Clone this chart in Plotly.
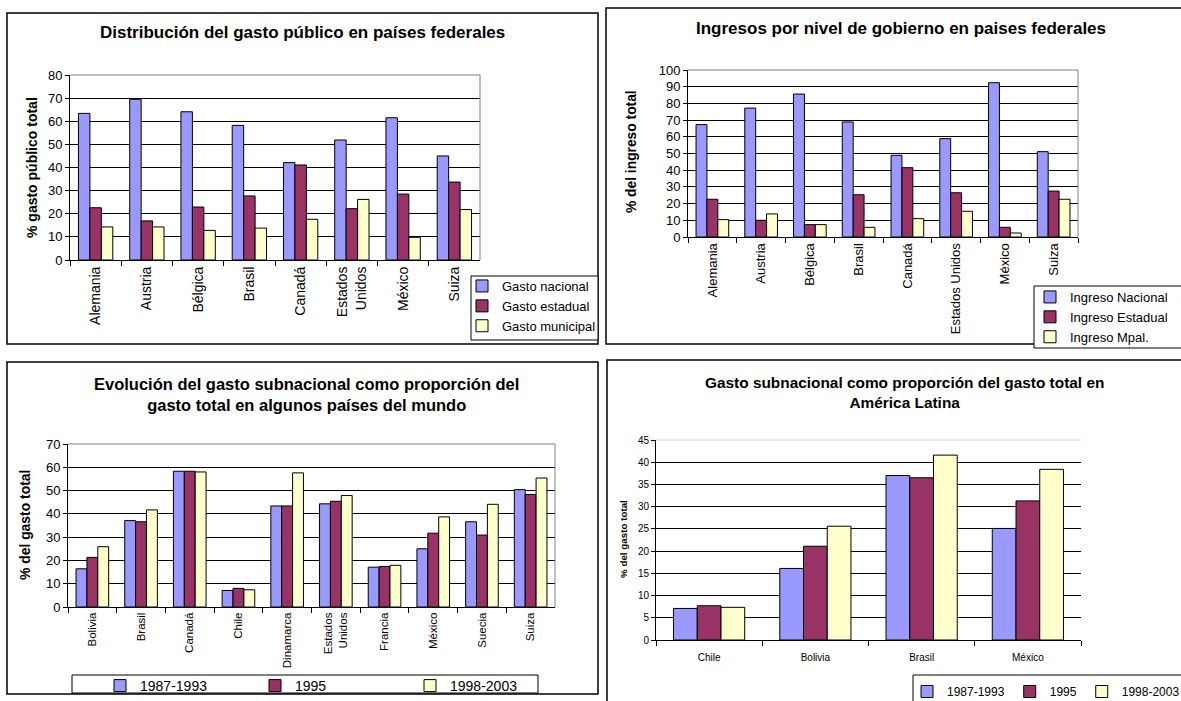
import plotly.graph_objects as go

W, H = 1181, 701
FONT = "Liberation Sans, Arial, sans-serif"
C_BLUE, C_RED, C_YEL = "#9999FF", "#993366", "#FFFFCC"

# ---------------- Data ----------------
# Panel 1: Distribución del gasto público en países federales
p1_cats = ["Alemania", "Austria", "Bélgica", "Brasil", "Canadá", "Estados Unidos", "México", "Suiza"]
p1_ticktext = ["Alemania", "Austria", "Bélgica", "Brasil", "Canadá", "Estados<br>Unidos", "México", "Suiza"]
p1_nacional = [63.4, 69.5, 64.1, 58.2, 42.1, 51.9, 61.5, 45.0]
p1_estadual = [22.6, 16.9, 22.9, 27.7, 41.1, 22.2, 28.5, 33.7]
p1_municipal = [14.3, 14.3, 12.8, 13.8, 17.6, 26.2, 9.8, 21.8]

# Panel 2: Ingresos por nivel de gobierno en paises federales
p2_cats = ["Alemania", "Austria", "Bélgica", "Brasil", "Canadá", "Estados Unidos", "México", "Suiza"]
p2_nacional = [67.3, 77.2, 85.6, 68.9, 48.9, 58.9, 92.4, 51.1]
p2_estadual = [22.6, 10.0, 7.4, 25.3, 41.5, 26.5, 5.8, 27.5]
p2_mpal = [10.4, 13.8, 7.4, 5.8, 11.0, 15.4, 2.4, 22.6]

# Panel 3: Evolución del gasto subnacional
p3_cats = ["Bolivia", "Brasil", "Canadá", "Chile", "Dinamarca", "Estados Unidos",
           "Francia", "México", "Suecia", "Suiza"]
p3_ticktext = ["Bolivia", "Brasil", "Canadá", "Chile", "Dinamarca", "Estados<br>Unidos",
               "Francia", "México", "Suecia", "Suiza"]
p3_8793 = [16.4, 37.1, 58.3, 7.1, 43.4, 44.3, 17.1, 25.0, 36.6, 50.4]
p3_1995 = [21.3, 36.6, 58.3, 8.0, 43.4, 45.4, 17.4, 31.7, 30.9, 48.3]
p3_9803 = [25.9, 41.7, 58.0, 7.4, 57.6, 47.9, 17.9, 38.7, 44.1, 55.4]

# Panel 4: Gasto subnacional en América Latina
p4_cats = ["Chile", "Bolivia", "Brasil", "México"]
p4_8793 = [7.1, 16.1, 37.0, 25.1]
p4_1995 = [7.7, 21.1, 36.5, 31.3]
p4_9803 = [7.35, 25.6, 41.6, 38.4]

series_names_1 = ["Gasto nacional", "Gasto estadual", "Gasto municipal"]
series_names_2 = ["Ingreso Nacional", "Ingreso Estadual", "Ingreso Mpal."]
series_names_3 = ["1987-1993", "1995", "1998-2003"]


def px(x):
    return x / W


def py(y):
    return 1 - y / H


fig = go.Figure()
colors = [C_BLUE, C_RED, C_YEL]


def add_bars(cats, series, names, xa, ya, legend, showlegend=True):
    for vals, name, col in zip(series, names, colors):
        fig.add_trace(go.Bar(
            x=cats, y=vals, name=name, xaxis=xa, yaxis=ya,
            marker=dict(color=col, line=dict(color="#000000", width=1)),
            legend=legend, showlegend=showlegend, hoverinfo="x+y+name",
        ))


add_bars(p1_cats, [p1_nacional, p1_estadual, p1_municipal], series_names_1, "x", "y", "legend")
add_bars(p2_cats, [p2_nacional, p2_estadual, p2_mpal], series_names_2, "x2", "y2", "legend2")
add_bars(p3_cats, [p3_8793, p3_1995, p3_9803], series_names_3, "x3", "y3", "legend3")
add_bars(p4_cats, [p4_8793, p4_1995, p4_9803], series_names_3, "x4", "y4", "legend4")


def xaxis(domain, anchor, ticktext, cats, size, angle=-90, standoff=None):
    d = dict(domain=domain, anchor=anchor, type="category",
             showline=True, linecolor="#000000", linewidth=1,
             ticks="outside", tickson="boundaries", ticklen=5, tickcolor="#000000",
             showgrid=False, tickangle=angle, automargin=False,
             tickfont=dict(family=FONT, size=size, color="#000000"),
             fixedrange=True)
    if ticktext is not None:
        d.update(tickmode="array", tickvals=cats, ticktext=ticktext)
    if standoff is not None:
        d.update(ticklabelstandoff=standoff)
    return d


def yaxis(domain, anchor, rng, dtick, size):
    return dict(domain=domain, anchor=anchor, range=rng, dtick=dtick,
                showline=True, linecolor="#000000", linewidth=1,
                ticks="outside", ticklen=4, tickcolor="#000000", automargin=False,
                showgrid=True, gridcolor="#000000", gridwidth=1, zeroline=False,
                tickfont=dict(family=FONT, size=size, color="#000000"),
                fixedrange=True)


# domains (pixel -> paper)
d1x = [px(70), px(480)]
d1y = [py(260), py(75)]
d2x = [px(688), px(1078)]
d2y = [py(237), py(70)]
d3x = [px(68), px(555)]
d3y = [py(607), py(444)]
d4x = [px(656), px(1081)]
d4y = [py(640), py(440)]

fig.update_layout(
    width=W, height=H,
    margin=dict(l=0, r=0, t=0, b=0, pad=0, autoexpand=False),
    paper_bgcolor="#FFFFFF", plot_bgcolor="#FFFFFF",
    font=dict(family=FONT, color="#000000"),
    barmode="group", bargap=0.33, bargroupgap=0,
    xaxis=xaxis(d1x, "y", p1_ticktext, p1_cats, 14),
    yaxis=yaxis(d1y, "x", [0, 80], 10, 13),
    xaxis2=xaxis(d2x, "y2", None, p2_cats, 13),
    yaxis2=yaxis(d2y, "x2", [0, 100], 10, 13),
    xaxis3=xaxis(d3x, "y3", p3_ticktext, p3_cats, 11.5),
    yaxis3=yaxis(d3y, "x3", [0, 70], 10, 13),
    xaxis4=xaxis(d4x, "y4", None, p4_cats, 10, angle=0, standoff=8),
    yaxis4=yaxis(d4y, "x4", [0, 45], 5, 10),
    legend=dict(x=px(462), y=py(271), xanchor="left", yanchor="top",
                bgcolor="rgba(0,0,0,0)", borderwidth=0,
                font=dict(family=FONT, size=13), tracegroupgap=0, itemwidth=30),
    legend2=dict(x=px(1030), y=py(282), xanchor="left", yanchor="top",
                 bgcolor="rgba(0,0,0,0)", borderwidth=0,
                 font=dict(family=FONT, size=13), itemwidth=30),
    legend3=dict(x=px(100), y=py(670), xanchor="left", yanchor="top",
                 orientation="h", bgcolor="rgba(0,0,0,0)", borderwidth=0,
                 entrywidth=110, entrywidthmode="pixels",
                 font=dict(family=FONT, size=14), itemwidth=30),
    legend4=dict(x=px(907), y=py(677), xanchor="left", yanchor="top",
                 orientation="h", bgcolor="rgba(0,0,0,0)", borderwidth=0,
                 font=dict(family=FONT, size=12), itemwidth=30),
    showlegend=True,
)

shapes = []
# Panel outer borders
for (x0, y0, x1, y1) in [(7, 13, 598, 344), (606, 8, 1183, 344), (7, 362, 598, 694), (607, 360, 1183, 703)]:
    shapes.append(dict(type="rect", xref="paper", yref="paper",
                       x0=px(x0), x1=px(x1), y0=py(y1), y1=py(y0),
                       line=dict(color="#000000", width=1.5), layer="below"))
# Legend boxes
for (x0, y0, x1, y1) in [(471, 276, 598, 340), (1034, 286, 1183, 348), (72, 675, 538, 693), (913, 675, 1183, 703)]:
    shapes.append(dict(type="rect", xref="paper", yref="paper",
                       x0=px(x0), x1=px(x1), y0=py(y1), y1=py(y0),
                       line=dict(color="#000000", width=1), fillcolor="#FFFFFF", layer="below"))
# Plot area frames (top and right, gray)
for xd, yd in [("x domain", "y domain"), ("x2 domain", "y2 domain"), ("x3 domain", "y3 domain")]:
    shapes.append(dict(type="line", xref=xd, yref=yd, x0=0, x1=1, y0=1, y1=1,
                       line=dict(color="#808080", width=1), layer="above"))
    shapes.append(dict(type="line", xref=xd, yref=yd, x0=1, x1=1, y0=0, y1=1,
                       line=dict(color="#808080", width=1), layer="above"))
shapes.append(dict(type="line", xref="x4 domain", yref="y4 domain", x0=0, x1=1, y0=1, y1=1,
                   line=dict(color="#D8D8D8", width=1), layer="above"))
fig.update_layout(shapes=shapes)

ann = []


def title(text, x, y, size):
    ann.append(dict(text=text, x=px(x), y=py(y), xref="paper", yref="paper",
                    xanchor="center", yanchor="middle", showarrow=False,
                    font=dict(family=FONT, size=size, color="#000000")))


def ytitle(text, x, y, size):
    ann.append(dict(text=text, x=px(x), y=py(y), xref="paper", yref="paper",
                    xanchor="center", yanchor="middle", showarrow=False, textangle=-90,
                    font=dict(family=FONT, size=size, color="#000000")))


title("<b>Distribución del gasto público en países federales</b>", 302, 33, 17)
title("<b>Ingresos por nivel de gobierno en paises federales</b>", 901, 28, 17)
title("<b>Evolución del gasto subnacional como proporción del<br>gasto total en algunos países del mundo</b>", 306, 394, 16.5)
title("<b>Gasto subnacional como proporción del gasto total en<br>América Latina</b>", 904, 392, 15.4)
ytitle("<b>% gasto público total</b>", 32, 168, 14)
ytitle("<b>% del ingreso total</b>", 631, 152, 13.8)
ytitle("<b>% del gasto total</b>", 25, 525, 13.9)
ytitle("<b>% del gasto total</b>", 623, 539, 9.8)
fig.update_layout(annotations=ann)

fig.write_html("out.html")
